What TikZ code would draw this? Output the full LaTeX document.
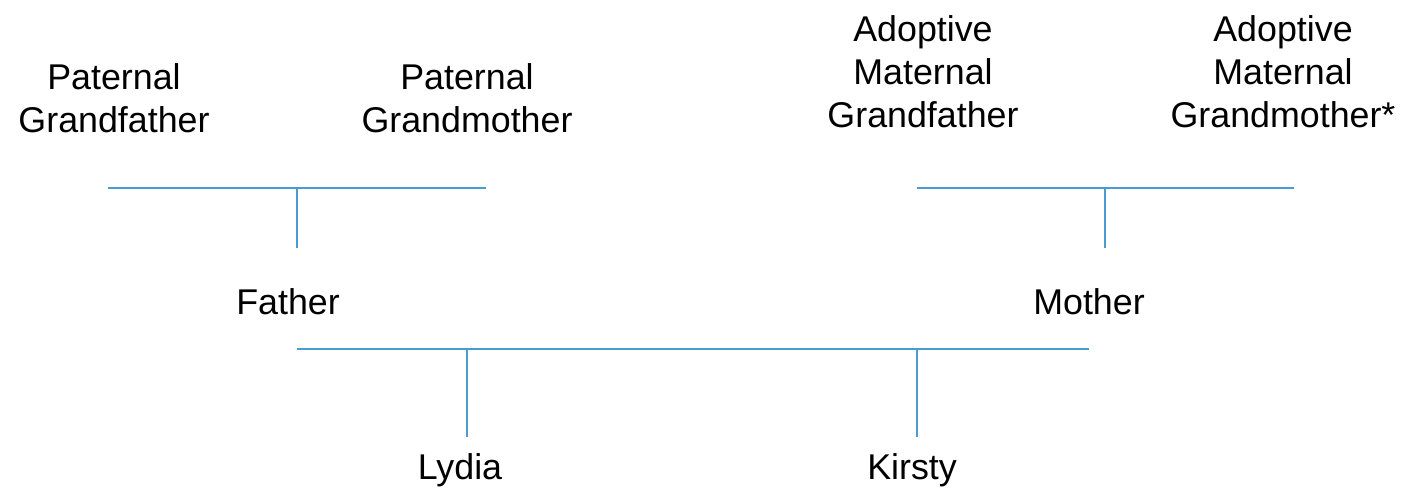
\documentclass[tikz,border=0pt]{standalone}
\usepackage{fontspec}
\setmainfont{Liberation Sans}
\definecolor{linkblue}{HTML}{4A9BD0}
\begin{document}
\begin{tikzpicture}[x=1pt,y=-1pt,
  person/.style={inner sep=0pt, align=center, font=\fontsize{35.8}{43}\selectfont, text=black},
  link/.style={draw=linkblue, line width=2.5pt}]
\useasboundingbox[fill=white] (0,0) rectangle (1418,495);
\node[person] (pgf) at (114,98) {Paternal\\Grandfather};
\node[person] (pgm) at (467,98) {Paternal\\Grandmother};
\node[person] (amgf) at (923,72) {Adoptive\\Maternal\\Grandfather};
\node[person] (amgm) at (1283,72) {Adoptive\\Maternal\\Grandmother*};
\node[person] (father) at (288,302) {Father};
\node[person] (mother) at (1089,302) {Mother};
\node[person] (lydia) at (460,470) {Lydia};
\node[person] (kirsty) at (912,470) {Kirsty};
% paternal union
\coordinate (pl) at (108,188);
\coordinate (pr) at (486,188);
\coordinate (pj) at (297,188);
\coordinate (pd) at (297,248);
\draw[link] (pl) -- (pr);
\draw[link] (pj) -- (pd);
% maternal union
\coordinate (ml) at (917,188);
\coordinate (mr) at (1294,188);
\coordinate (mj) at (1105,188);
\coordinate (md) at (1105,248);
\draw[link] (ml) -- (mr);
\draw[link] (mj) -- (md);
% parents union
\coordinate (fl) at (297,349);
\coordinate (fr) at (1089,349);
\coordinate (lj) at (467,349);
\coordinate (ld) at (467,437);
\coordinate (kj) at (917,349);
\coordinate (kd) at (917,437);
\draw[link] (fl) -- (fr);
\draw[link] (lj) -- (ld);
\draw[link] (kj) -- (kd);
\end{tikzpicture}
\end{document}
